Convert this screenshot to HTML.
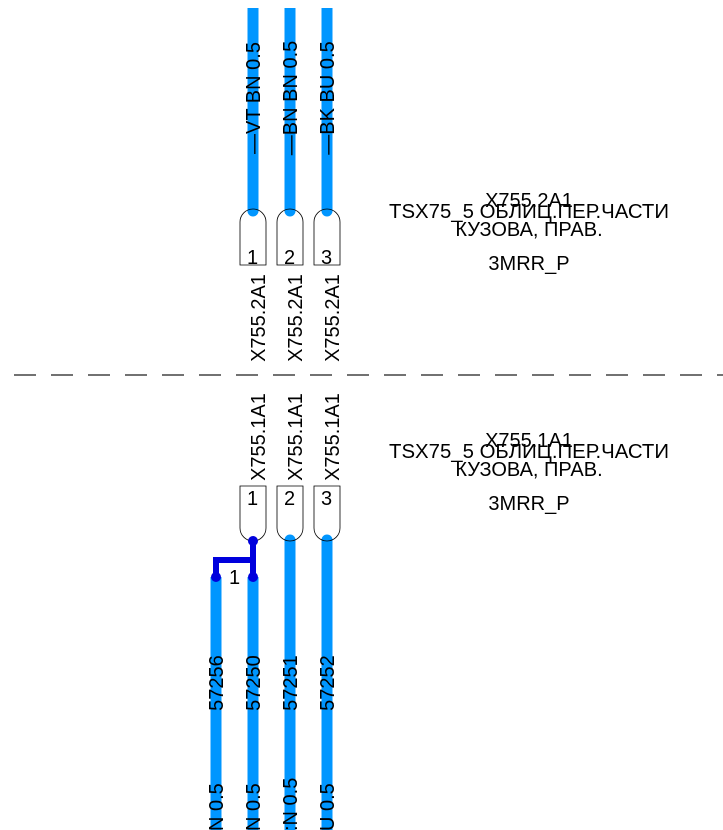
<!DOCTYPE html>
<html><head><meta charset="utf-8"><style>
html,body{margin:0;padding:0;background:#fff;}
svg{display:block;}
text{font-family:"Liberation Sans",sans-serif;font-size:20px;fill:#000;}
</style></head><body>
<svg width="723" height="830" viewBox="0 0 723 830">
<line x1="14" y1="375" x2="723" y2="375" stroke="#444" stroke-width="1.5" stroke-dasharray="22,15"/>
<g stroke="#0096ff" stroke-width="11">
<line x1="253" y1="8" x2="253" y2="211"/>
<line x1="290" y1="8" x2="290" y2="211"/>
<line x1="327" y1="8" x2="327" y2="211"/>
<line x1="290" y1="540" x2="290" y2="830"/>
<line x1="327" y1="540" x2="327" y2="830"/>
<line x1="253" y1="577" x2="253" y2="830"/>
<line x1="216" y1="577" x2="216" y2="830"/>
</g>
<g fill="#0096ff">
<circle cx="253" cy="211" r="5.5"/><circle cx="290" cy="211" r="5.5"/><circle cx="327" cy="211" r="5.5"/>
<circle cx="290" cy="540" r="5.5"/><circle cx="327" cy="540" r="5.5"/>
</g>
<g fill="none" stroke="#000" stroke-width="0.8">
<path d="M240 265 V222 A13 13 0 0 1 266 222 V265 Z"/>
<path d="M277 265 V222 A13 13 0 0 1 303 222 V265 Z"/>
<path d="M314 265 V222 A13 13 0 0 1 340 222 V265 Z"/>
<path d="M240 486 V528 A13 13 0 0 0 266 528 V486 Z"/>
<path d="M277 486 V528 A13 13 0 0 0 303 528 V486 Z"/>
<path d="M314 486 V528 A13 13 0 0 0 340 528 V486 Z"/>
</g>
<g style="font-size:18px">
<text x="247" y="264">1</text><text x="284" y="264">2</text><text x="321" y="264">3</text>
<text x="247" y="505">1</text><text x="284" y="505">2</text><text x="321" y="505">3</text>
<text x="229" y="584">1</text>
</g>
<path d="M253 540 V577 M253 560 H216 V577" fill="none" stroke="#0000dd" stroke-width="6"/>
<g fill="#0000dd"><circle cx="253" cy="541" r="5"/><circle cx="253" cy="577" r="5"/><circle cx="216" cy="577" r="5"/></g>
<g text-anchor="middle">
<text transform="translate(260,98) rotate(-90)">—VT BN 0.5</text>
<text transform="translate(297,98) rotate(-90)">—BN BN 0.5</text>
<text transform="translate(334,98) rotate(-90)">—BK BU 0.5</text>
<text transform="translate(265,318) rotate(-90)">X755.2A1</text>
<text transform="translate(302,318) rotate(-90)">X755.2A1</text>
<text transform="translate(339,318) rotate(-90)">X755.2A1</text>
<text transform="translate(265,437) rotate(-90)">X755.1A1</text>
<text transform="translate(302,437) rotate(-90)">X755.1A1</text>
<text transform="translate(339,437) rotate(-90)">X755.1A1</text>
<text transform="translate(223,683) rotate(-90)">57256</text>
<text transform="translate(260,683) rotate(-90)">57250</text>
<text transform="translate(297,683) rotate(-90)">57251</text>
<text transform="translate(334,683) rotate(-90)">57252</text>
</g>
<g text-anchor="start">
<text transform="translate(223,831) rotate(-90)">N 0.5</text>
<text transform="translate(260,831) rotate(-90)">N 0.5</text>
<text transform="translate(297,831) rotate(-90)">:N 0.5</text>
<text transform="translate(334,831) rotate(-90)">U 0.5</text>
</g>
<g text-anchor="middle">
<text x="529" y="207">X755.2A1</text>
<text x="529" y="218" textLength="280" lengthAdjust="spacingAndGlyphs">TSX75_5 ОБЛИЦ.ПЕР.ЧАСТИ</text>
<text x="529" y="236">КУЗОВА, ПРАВ.</text>
<text x="529" y="270">3MRR_P</text>
<text x="529" y="447">X755.1A1</text>
<text x="529" y="458" textLength="280" lengthAdjust="spacingAndGlyphs">TSX75_5 ОБЛИЦ.ПЕР.ЧАСТИ</text>
<text x="529" y="476">КУЗОВА, ПРАВ.</text>
<text x="529" y="510">3MRR_P</text>
</g>
</svg>
</body></html>
